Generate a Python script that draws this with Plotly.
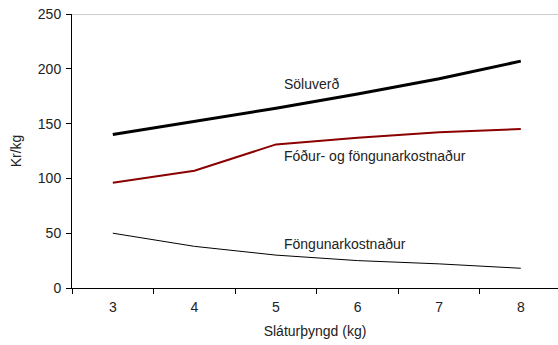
import plotly.graph_objects as go

categories = ["3", "4", "5", "6", "7", "8"]
soluverd = [140, 152, 164, 177, 191, 207]
fodur = [96, 107, 131, 137, 142, 145]
fongun = [50, 38, 30, 25, 22, 18]
y_ticks = [0, 50, 100, 150, 200, 250]

font = "Liberation Sans, Arial, sans-serif"

fig = go.Figure()
fig.add_trace(go.Scatter(x=categories, y=soluverd, mode="lines",
                         line=dict(color="black", width=3), name="Söluverð"))
fig.add_trace(go.Scatter(x=categories, y=fodur, mode="lines",
                         line=dict(color="#8b0000", width=2), name="Fóður- og föngunarkostnaður"))
fig.add_trace(go.Scatter(x=categories, y=fongun, mode="lines",
                         line=dict(color="black", width=1), name="Föngunarkostnaður"))

fig.add_shape(type="line", xref="paper", yref="y", x0=0, x1=1, y0=250, y1=250,
              line=dict(color="#bdbdbd", width=1.5))

ann = [("Söluverð", 2.08, 186), ("Fóður- og föngunarkostnaður", 2.08, 120),
       ("Föngunarkostnaður", 2.08, 40)]
for text, x, y in ann:
    fig.add_annotation(x=x, y=y, xref="x", yref="y", text=text, showarrow=False,
                       xanchor="left", yanchor="middle", borderpad=0,
                       font=dict(family=font, size=14, color="#222"))

fig.update_layout(
    width=558, height=345,
    margin=dict(l=72, r=0, t=14, b=57),
    paper_bgcolor="white", plot_bgcolor="white",
    showlegend=False,
    font=dict(family=font, size=14, color="#222"),
    xaxis=dict(type="category", range=[-0.5, 5.456], showgrid=False,
               showline=True, linecolor="black", linewidth=1,
               ticks="outside", tickson="boundaries", ticklen=5, tickcolor="black",
               ticklabelstandoff=6,
               tickfont=dict(family=font, size=14),
               title=dict(text="Sláturþyngd (kg)", font=dict(family=font, size=14), standoff=12)),
    yaxis=dict(range=[0, 250], tickvals=y_ticks, showgrid=False, zeroline=False,
               showline=True, linecolor="black", linewidth=1,
               ticks="outside", ticklen=5, tickcolor="black",
               ticklabelstandoff=2,
               tickfont=dict(family=font, size=14),
               title=dict(text="Kr/kg", font=dict(family=font, size=14), standoff=12)),
)

fig.write_html("out.html")
